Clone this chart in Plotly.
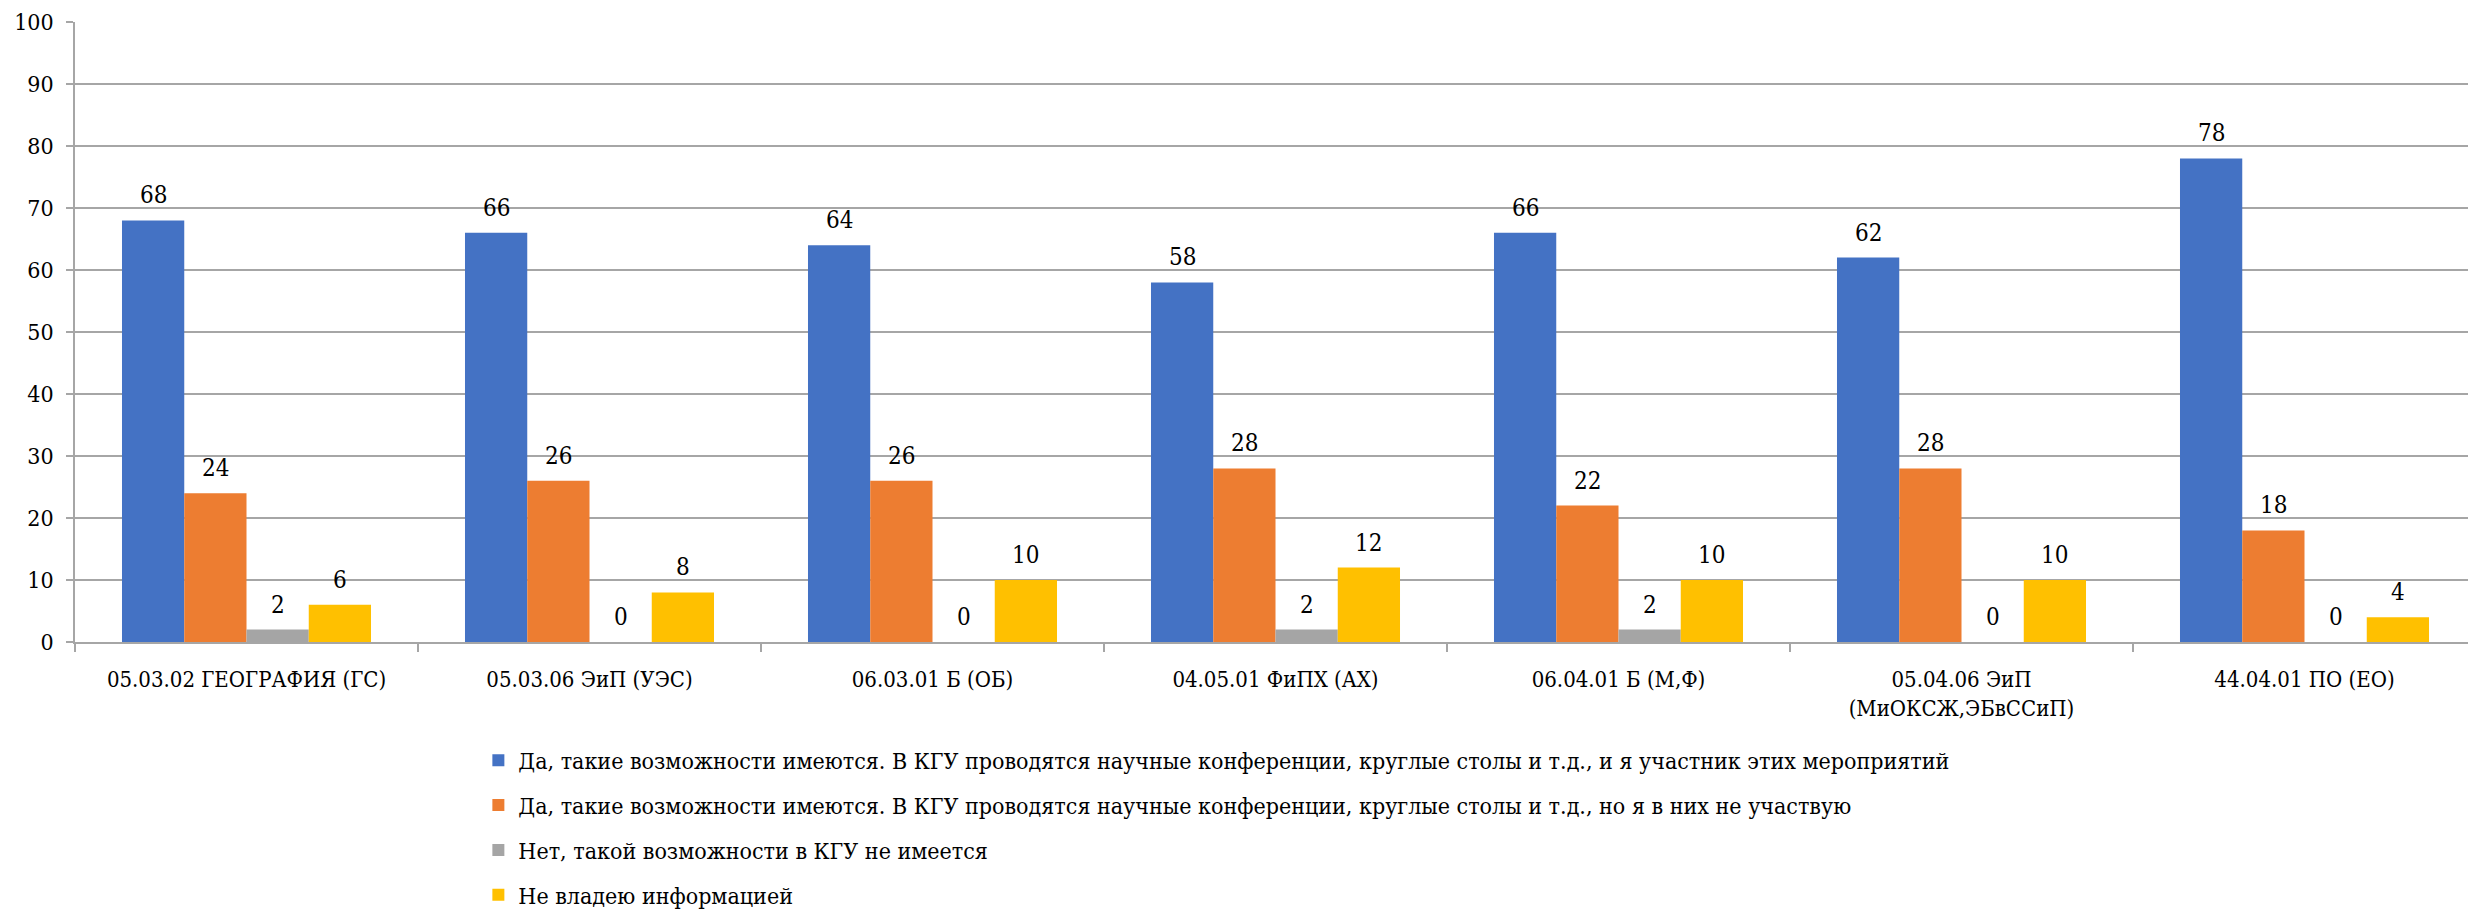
import plotly.graph_objects as go

categories = [
    "05.03.02 ГЕОГРАФИЯ (ГС)",
    "05.03.06 ЭиП (УЭС)",
    "06.03.01 Б (ОБ)",
    "04.05.01 ФиПХ (АХ)",
    "06.04.01 Б (М,Ф)",
    "05.04.06 ЭиП<br>(МиОКСЖ,ЭБвССиП)",
    "44.04.01 ПО (ЕО)",
]

series_names = [
    "Да, такие возможности имеются. В КГУ проводятся научные конференции, круглые столы и т.д., и я участник этих мероприятий",
    "Да, такие возможности имеются. В КГУ проводятся научные конференции, круглые столы и т.д., но я в них не участвую",
    "Нет, такой возможности в КГУ не имеется",
    "Не владею информацией",
]

participant = [68, 66, 64, 58, 66, 62, 78]
not_participating = [24, 26, 26, 28, 22, 28, 18]
no_possibility = [2, 0, 0, 2, 2, 0, 0]
no_info = [6, 8, 10, 12, 10, 10, 4]

series_values = [participant, not_participating, no_possibility, no_info]
colors = ["#4472C4", "#ED7D31", "#A5A5A5", "#FFC000"]

y_ticks = [0, 10, 20, 30, 40, 50, 60, 70, 80, 90, 100]

# page body has an 8px default margin, so the figure is sized to fit the window
W, H = 2468, 903
ML, MR, MT, MB = 67, 0, 14, 269
BARGAP = 0.274
FONT = "DejaVu Serif Condensed"
GRID = "#A6A6A6"

fig = go.Figure()
for name, vals, col in zip(series_names, series_values, colors):
    fig.add_trace(go.Bar(
        x=categories, y=vals, name=name,
        marker=dict(color=col, line=dict(width=0)),
        legendgroup=name,
    ))

plot_w = W - ML - MR
cat_w = plot_w / len(categories)
bar_w = cat_w * (1 - BARGAP) / len(series_values)
n = len(series_values)
for si, vals in enumerate(series_values):
    off = (si - (n - 1) / 2) * bar_w
    for c, v in zip(categories, vals):
        fig.add_annotation(
            x=c, y=v, text=str(v), showarrow=False,
            xshift=off, yshift=25, yanchor="middle", xanchor="center",
            font=dict(family=FONT, size=24, color="#000000"),
        )

fig.update_layout(
    width=W, height=H,
    margin=dict(l=ML, r=MR, t=MT, b=MB, autoexpand=False),
    paper_bgcolor="white", plot_bgcolor="white",
    barmode="group", bargap=BARGAP, bargroupgap=0,
    font=dict(family=FONT, size=23, color="#000000"),
    showlegend=True,
    legend=dict(
        orientation="v", x=0.168, xanchor="left", y=-0.156, yanchor="top",
        font=dict(family=FONT, size=23, color="#000000"),
        traceorder="grouped", tracegroupgap=12,
        bgcolor="rgba(0,0,0,0)",
    ),
    xaxis=dict(
        type="category", showgrid=False, showline=True, linecolor=GRID, linewidth=1.5,
        ticks="outside", tickson="boundaries", ticklen=8, tickcolor=GRID, tickwidth=1.5,
        tickfont=dict(family=FONT, size=22, color="#000000"),
        ticklabelstandoff=17, automargin=False,
    ),
    yaxis=dict(
        range=[0, 100], tickvals=y_ticks, showgrid=True, gridcolor=GRID, gridwidth=1.5,
        showline=True, linecolor=GRID, linewidth=1.5, zeroline=False,
        ticks="outside", ticklen=7, tickcolor=GRID, tickwidth=1.5,
        tickfont=dict(family=FONT, size=23, color="#000000"),
        ticklabelstandoff=8, automargin=False, ticklabeloverflow="allow",
    ),
)

fig.write_html("out.html", config={"displayModeBar": False})
